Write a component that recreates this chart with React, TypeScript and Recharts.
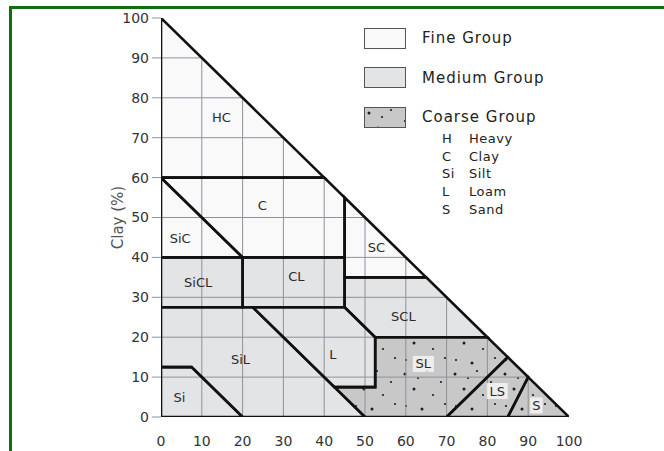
import { Scatter, ScatterChart, XAxis, YAxis } from "recharts";

type Pt = [number, number];
interface Region {
  name: string;
  points: Pt[];
}

// sand % (x) / clay % (y)
const xTicks = [0, 10, 20, 30, 40, 50, 60, 70, 80, 90, 100];
const yTicks = [0, 10, 20, 30, 40, 50, 60, 70, 80, 90, 100];
const gridValues = [10, 20, 30, 40, 50, 60, 70, 80, 90];

const fineRegions: Region[] = [
  { name: "HC", points: [[0, 100], [40, 60], [0, 60]] },
  { name: "C", points: [[0, 60], [40, 60], [45, 55], [45, 40], [20, 40]] },
  { name: "SiC", points: [[0, 60], [20, 40], [0, 40]] },
  { name: "SC", points: [[45, 55], [65, 35], [45, 35]] },
];

const mediumRegions: Region[] = [
  { name: "SiCL", points: [[0, 40], [20, 40], [20, 27.5], [0, 27.5]] },
  { name: "CL", points: [[20, 40], [45, 40], [45, 27.5], [20, 27.5]] },
  { name: "SCL", points: [[45, 35], [65, 35], [80, 20], [52.5, 20], [45, 27.5]] },
  { name: "SiL", points: [[0, 27.5], [22.5, 27.5], [50, 0], [20, 0], [7.5, 12.5], [0, 12.5]] },
  { name: "L", points: [[22.5, 27.5], [45, 27.5], [52.5, 20], [52.5, 7.5], [42.5, 7.5]] },
  { name: "Si", points: [[0, 12.5], [7.5, 12.5], [20, 0], [0, 0]] },
];

const coarseRegions: Region[] = [
  { name: "SL", points: [[52.5, 20], [80, 20], [85, 15], [70, 0], [50, 0], [42.5, 7.5], [52.5, 7.5]] },
  { name: "LS", points: [[85, 15], [90, 10], [85, 0], [70, 0]] },
  { name: "S", points: [[90, 10], [100, 0], [85, 0]] },
];

const regionLabels = [
  { name: "HC", x: 14.8, y: 75, group: "fine" },
  { name: "C", x: 24.8, y: 53, group: "fine" },
  { name: "SiC", x: 4.7, y: 44.7, group: "fine" },
  { name: "SC", x: 52.8, y: 42.4, group: "fine" },
  { name: "SiCL", x: 9.1, y: 33.6, group: "medium" },
  { name: "CL", x: 33.2, y: 35.3, group: "medium" },
  { name: "SCL", x: 59.4, y: 25.2, group: "medium" },
  { name: "SiL", x: 19.5, y: 14.5, group: "medium" },
  { name: "L", x: 42.1, y: 15.7, group: "medium" },
  { name: "Si", x: 4.5, y: 4.9, group: "medium" },
  { name: "SL", x: 64.3, y: 13.3, group: "coarse" },
  { name: "LS", x: 82.4, y: 6.5, group: "coarse" },
  { name: "S", x: 92, y: 2.9, group: "coarse" },
];

const legendGroups = ["Fine Group", "Medium Group", "Coarse Group"];
const abbrKeys = ["H", "C", "Si", "L", "S"];
const abbrNames = ["Heavy", "Clay", "Silt", "Loam", "Sand"];

const FINE = "#f9f9f9";
const MEDIUM = "#e3e4e6";
const COARSE = "#c8c8c9";
const OUTLINE = "#111";
const GRID = "#8d929b";

const toData = (pts: Pt[]) => pts.map(([x, y]) => ({ x, y }));

const toPath = (pts: { x: number; y: number }[]) =>
  pts.map((p, i) => `${i ? "L" : "M"}${p.x},${p.y}`).join(" ") + " Z";

// speckle texture for the coarse group
const dotSpots = [
  [5, 6], [27, 3], [41, 14], [14, 21], [33, 27], [6, 38], [22, 41], [45, 36], [18, 10],
];

function DotPattern({ id }: { id: string }) {
  return (
    <defs>
      <pattern id={id} width={50} height={46} patternUnits="userSpaceOnUse">
        <rect width={50} height={46} fill={COARSE} />
        {dotSpots.map(([cx, cy], i) => (
          <circle key={i} cx={cx} cy={cy} r={i % 3 === 0 ? 1.5 : 1.1} fill="#1e1e1e" />
        ))}
      </pattern>
    </defs>
  );
}

const fillShape = (fill: string) => (props: any) =>
  <path d={toPath(props.points)} fill={fill} stroke="none" />;

const coarseFill = (props: any) => (
  <g>
    <DotPattern id="coarseDots" />
    <path d={toPath(props.points)} fill="url(#coarseDots)" stroke="none" />
  </g>
);

const outlineShape = (props: any) => (
  <path
    d={toPath(props.points)}
    fill="none"
    stroke={OUTLINE}
    strokeWidth={2.6}
    strokeLinejoin="miter"
  />
);

const segShape = (props: any) => (
  <path
    d={`M${props.points[0].x},${props.points[0].y} L${props.points[1].x},${props.points[1].y}`}
    stroke={GRID}
    strokeWidth={1}
  />
);

const noDot = () => <g />;

const labelShape = (props: any) => {
  const { cx, cy, payload } = props;
  const w = payload.name.length * 8.5 + 4;
  return (
    <g>
      {payload.group === "coarse" && (
        <rect x={cx - w / 2} y={cy - 8} width={w} height={16} fill="#f4f4f4" opacity={0.85} />
      )}
      <text
        x={cx}
        y={cy}
        textAnchor="middle"
        dominantBaseline="central"
        fontSize={13}
        fill="#2b2b2b"
        fontFamily="'DejaVu Sans', sans-serif"
      >
        {payload.name}
      </text>
    </g>
  );
};

const verticalGrid = gridValues.map((v) => [{ x: v, y: 0 }, { x: v, y: 100 - v }]);
const horizontalGrid = gridValues.map((v) => [{ x: 0, y: v }, { x: 100 - v, y: v }]);

export default function App() {
  const allRegions = [...fineRegions, ...mediumRegions, ...coarseRegions];
  return (
    <div
      style={{
        position: "relative",
        width: 664,
        height: 451,
        overflow: "hidden",
        background: "#fff",
        fontFamily: "'DejaVu Sans', sans-serif",
      }}
    >
      <style>{"html,body{margin:0;padding:0;overflow:hidden;}"}</style>
      <div
        style={{
          position: "absolute",
          left: 9,
          top: 6,
          width: 720,
          height: 520,
          borderLeft: "3.5px solid #0f6e12",
          borderTop: "3.5px solid #0f6e12",
        }}
      />
      <ScatterChart width={664} height={451} margin={{ top: 18, right: 95, bottom: 0, left: 0 }}>
        <XAxis
          type="number"
          dataKey="x"
          domain={[0, 100]}
          ticks={xTicks}
          allowDataOverflow
          height={34}
          axisLine={false}
          tickLine={false}
          tickSize={8}
          tickMargin={11}
          tick={{ fontSize: 14, fill: "#333" }}
          label={{ value: "Sand (%)", position: "bottom", offset: 2, fontSize: 14, fill: "#444" }}
        />
        <YAxis
          type="number"
          dataKey="y"
          domain={[0, 100]}
          ticks={yTicks}
          allowDataOverflow
          width={161}
          axisLine={false}
          tickLine={{ stroke: GRID }}
          tickSize={9}
          tickMargin={3}
          tick={{ fontSize: 14, fill: "#333" }}
          label={{ value: "Clay (%)", angle: -90, position: "center", dx: 37, fontSize: 15, fill: "#555" }}
        />
        {fineRegions.map((r) => (
          <Scatter key={"f" + r.name} data={toData(r.points)} line={fillShape(FINE)} shape={noDot} isAnimationActive={false} />
        ))}
        {mediumRegions.map((r) => (
          <Scatter key={"m" + r.name} data={toData(r.points)} line={fillShape(MEDIUM)} shape={noDot} isAnimationActive={false} />
        ))}
        {coarseRegions.map((r) => (
          <Scatter key={"c" + r.name} data={toData(r.points)} line={coarseFill} shape={noDot} isAnimationActive={false} />
        ))}
        {[...verticalGrid, ...horizontalGrid].map((seg, i) => (
          <Scatter key={"g" + i} data={seg} line={segShape} shape={noDot} isAnimationActive={false} />
        ))}
        {allRegions.map((r) => (
          <Scatter key={"o" + r.name} data={toData(r.points)} line={outlineShape} shape={noDot} isAnimationActive={false} />
        ))}
        <Scatter data={regionLabels} shape={labelShape} isAnimationActive={false} />
      </ScatterChart>

      <div style={{ position: "absolute", left: 364, top: 28, color: "#222" }}>
        {legendGroups.map((g, i) => (
          <div key={g} style={{ display: "flex", alignItems: "center", height: 20, marginBottom: 19.5 }}>
            <svg width={42} height={21} style={{ display: "block" }}>
              {i === 2 && <DotPattern id="legendDots" />}
              <rect
                x={0.5}
                y={0.5}
                width={41}
                height={20}
                fill={i === 0 ? FINE : i === 1 ? MEDIUM : "url(#legendDots)"}
                stroke="#555"
                strokeWidth={1}
              />
            </svg>
            <span style={{ marginLeft: 16, fontSize: 15, letterSpacing: 1 }}>{g}</span>
          </div>
        ))}
      </div>
      <div style={{ position: "absolute", left: 442, top: 130, color: "#222", fontSize: 13, letterSpacing: 0.5 }}>
        {abbrKeys.map((k, i) => (
          <div key={k} style={{ display: "flex", height: 17.6, alignItems: "center" }}>
            <span style={{ width: 27 }}>{k}</span>
            <span>{abbrNames[i]}</span>
          </div>
        ))}
      </div>
    </div>
  );
}
